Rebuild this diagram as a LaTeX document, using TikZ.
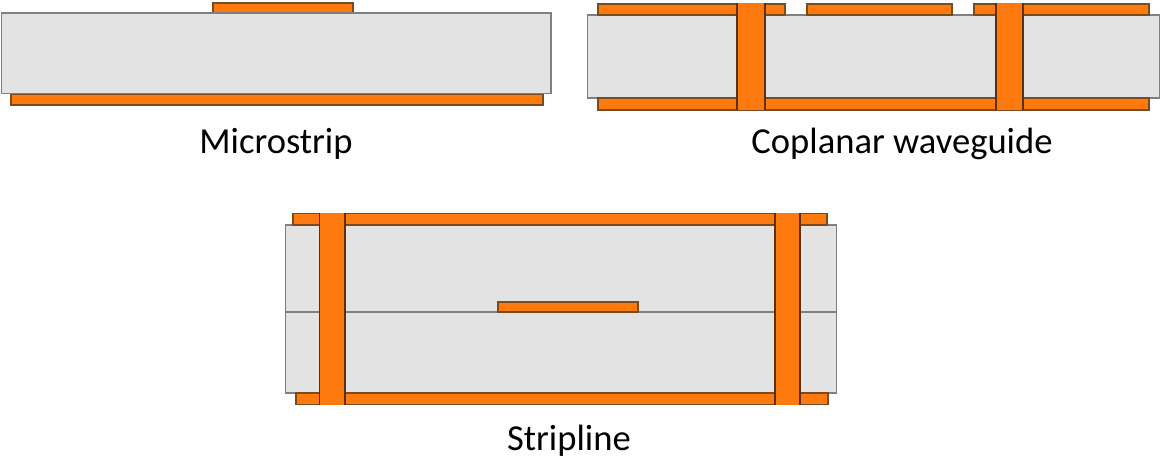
\documentclass[tikz,border=0pt]{standalone}
\usepackage{fontspec}
\setmainfont{Carlito}
\definecolor{cu}{HTML}{FF7A0E}
\definecolor{cuedge}{HTML}{7A4A20}
\definecolor{viaedge}{HTML}{5A3012}
\definecolor{sub}{HTML}{E3E3E3}
\definecolor{subedge}{HTML}{808080}
\tikzset{
  copper/.style={fill=cu,draw=cuedge,line width=1.1pt},
  viafill/.style={fill=cu,draw=none},
  viaside/.style={draw=viaedge,line width=1.3pt},
  substrate/.style={fill=sub,draw=subedge,line width=1.3pt},
  caption/.style={font=\fontsize{36.6}{40}\selectfont,text=black,inner sep=0pt,anchor=base}
}
\begin{document}
\begin{tikzpicture}[x=1pt,y=-1pt]
\useasboundingbox[fill=white] (0,0) rectangle (1160,457);
% Microstrip
\draw[copper] (213,3) rectangle (353,13);
\draw[copper] (11,94) rectangle (543,105);
\draw[substrate] (1.5,13) rectangle (551,93.5);
\node[caption] (mlabel) at (276,154) {Microstrip};
% Coplanar waveguide
\draw[substrate] (587.5,15) rectangle (1160,98);
\draw[copper] (598,4) rectangle (785,15);
\draw[copper] (807,4) rectangle (952,15);
\draw[copper] (974,4) rectangle (1149,15);
\draw[copper] (598,98) rectangle (1149,110);
\fill[viafill] (737,3.5) rectangle (765,110.5);
\draw[viaside] (737,3.5) -- (737,110.5);
\draw[viaside] (765,3.5) -- (765,110.5);
\fill[viafill] (996,3.5) rectangle (1023,110.5);
\draw[viaside] (996,3.5) -- (996,110.5);
\draw[viaside] (1023,3.5) -- (1023,110.5);
\node[caption] (clabel) at (902,154) {Coplanar waveguide};
% Stripline
\draw[substrate] (285.5,225) rectangle (836.5,393);
\draw[subedge,line width=1.3pt] (285.5,312) -- (836.5,312);
\draw[copper] (293,213.5) rectangle (827,225);
\draw[copper] (296,393) rectangle (828,404.5);
\draw[copper] (498,302) rectangle (638,312);
\fill[viafill] (319.5,213) rectangle (345,405);
\draw[viaside] (319.5,213) -- (319.5,405);
\draw[viaside] (345,213) -- (345,405);
\fill[viafill] (775,213) rectangle (800,405);
\draw[viaside] (775,213) -- (775,405);
\draw[viaside] (800,213) -- (800,405);
\node[caption] (slabel) at (569,450) {Stripline};
\end{tikzpicture}
\end{document}
